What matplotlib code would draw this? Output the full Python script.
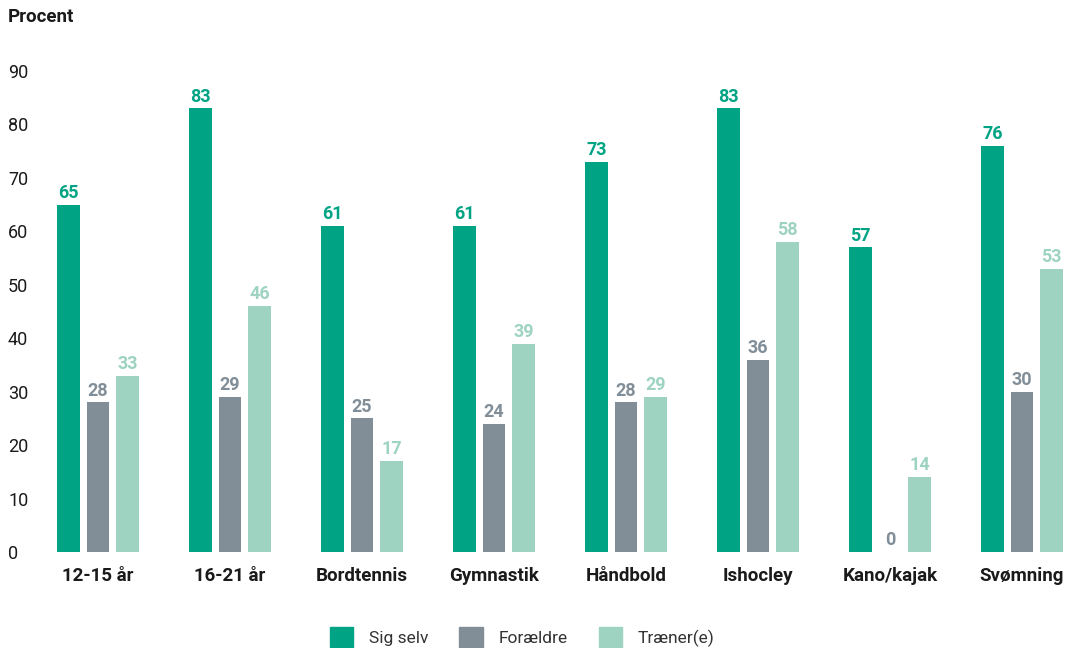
import matplotlib
matplotlib.use("Agg")
import matplotlib.pyplot as plt
import matplotlib.patches as patches
import numpy as np

plt.rcParams['font.family'] = ['Roboto', 'DejaVu Sans']

# data
categories = ['12-15 år', '16-21 år', 'Bordtennis', 'Gymnastik', 'Håndbold',
              'Ishocley', 'Kano/kajak', 'Svømning']
sig_selv = [65, 83, 61, 61, 73, 83, 57, 76]
foraeldre = [28, 29, 25, 24, 28, 36, 0, 30]
traener = [33, 46, 17, 39, 29, 58, 14, 53]
series_names = ['Sig selv', 'Forældre', 'Træner(e)']
yticks = [0, 10, 20, 30, 40, 50, 60, 70, 80, 90]

colors = ['#00a383', '#818e98', '#9ed3c1']
text_dark = '#1a1a1a'

W, H, DPI = 1070, 648, 100
fig = plt.figure(figsize=(W / DPI, H / DPI), dpi=DPI)

# axes placement in pixels
ax_left, ax_right, ax_top, ax_bottom = 40, 1070, 40, 552
ax = fig.add_axes([ax_left / W, (H - ax_bottom) / H,
                   (ax_right - ax_left) / W, (ax_bottom - ax_top) / H])

x = np.arange(len(categories))
bar_w = 0.174
step = 0.225
for k, (vals, col) in enumerate(zip([sig_selv, foraeldre, traener], colors)):
    xs = x + (k - 1) * step
    ax.bar(xs, vals, width=bar_w, color=col, label=series_names[k])
    for xi, v in zip(xs, vals):
        ax.annotate(f'{v}', (xi, v), xytext=(0, 2), textcoords='offset points',
                    ha='center', va='bottom', fontsize=13, fontweight='bold',
                    color=col)

ax.set_xlim(-(98 - ax_left) / 132, (ax_right - 98) / 132)
ax.set_ylim(0, (ax_bottom - ax_top) / 5.344)

for s in ax.spines.values():
    s.set_visible(False)

ax.set_yticks(yticks)
ax.tick_params(axis='y', length=0, labelsize=13, labelcolor=text_dark,
               pad=(ax_left - 8) * 72 / DPI)
for lbl in ax.get_yticklabels():
    lbl.set_horizontalalignment('left')

ax.set_xticks(x)
ax.set_xticklabels(categories, fontsize=13.5, fontweight='bold', color=text_dark)
ax.tick_params(axis='x', length=0, pad=11)

fig.text(8 / W, 1 - 17 / H, 'Procent', ha='left', va='center',
         fontsize=13.5, fontweight='bold', color=text_dark)

handles = [patches.Patch(color=c, label=n) for c, n in zip(colors, series_names)]
fig.legend(handles=handles, loc='center', bbox_to_anchor=(522 / W, 1 - 637 / H),
           ncol=3, frameon=False, fontsize=12.5, handlelength=1.35,
           handleheight=1.35, handletextpad=0.9, columnspacing=1.8,
           labelcolor='#333333')

fig.savefig('out.png', dpi=DPI)
